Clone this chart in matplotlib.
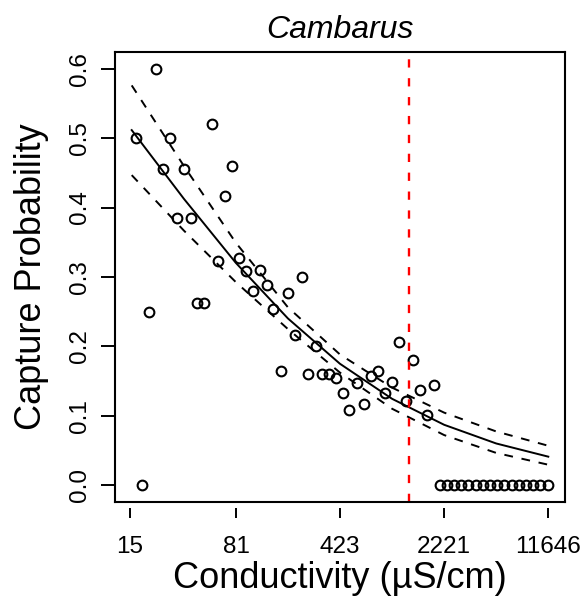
import numpy as np
import matplotlib.pyplot as plt
from matplotlib.ticker import FixedLocator, FixedFormatter, NullLocator

plt.rcParams['font.family'] = ['Liberation Sans', 'DejaVu Sans']

# observed capture probabilities (conductivity in uS/cm)
cond = [22.6, 16.4, 55, 28.3, 76.4, 25.2, 35.2, 68.3, 31.5, 39.4,
        61.1, 85.3, 95, 118.8, 132.1, 230.6, 184.6, 105.7, 146.8, 207.3,
        288, 20.3, 43.8, 48.9, 165.2, 256, 320, 358, 398, 447,
        492, 559, 623, 696, 781, 869, 972, 1081, 1215, 1350,
        1502, 1689, 1888, 18.1]
prob = [0.600, 0.500, 0.520, 0.500, 0.460, 0.455, 0.455, 0.417, 0.385, 0.385,
        0.323, 0.327, 0.308, 0.310, 0.288, 0.300, 0.277, 0.280, 0.254, 0.217,
        0.200, 0.250, 0.263, 0.263, 0.165, 0.161, 0.161, 0.161, 0.155, 0.133,
        0.108, 0.148, 0.117, 0.157, 0.165, 0.133, 0.149, 0.207, 0.121, 0.181,
        0.137, 0.102, 0.145, 0.0]

# sites with no captures
zero_cond = [2064, 2315, 2596, 2912, 3266, 3663, 4108, 4607, 5168, 5796,
             6500, 7291, 8178, 9172, 10287, 11538]

# fitted curve and confidence band
curve_cond = [15.4, 35.3, 80.7, 185, 423, 970, 2221, 5085, 11646]
fit_mid = [0.5115, 0.4127, 0.3204, 0.2403, 0.1751, 0.1246, 0.0872, 0.0603, 0.0413]
fit_upper = [0.5759, 0.4600, 0.3494, 0.2563, 0.1885, 0.1407, 0.1047, 0.0776, 0.0570]
fit_lower = [0.4467, 0.3669, 0.2927, 0.2250, 0.1624, 0.1103, 0.0724, 0.0467, 0.0297]

threshold = 1275

xtick_vals = [15, 81, 423, 2221, 11646]
ytick_vals = [0.0, 0.1, 0.2, 0.3, 0.4, 0.5, 0.6]


def main():
    fig = plt.figure(figsize=(5.86, 6.01), dpi=100)
    ax = fig.add_axes([0.1962, 0.1647, 0.768, 0.7488])

    ax.plot(cond, prob, 'o', mfc='none', mec='black', ms=7, mew=1.5)
    ax.plot(zero_cond, np.zeros(len(zero_cond)), 'o', mfc='none',
            mec='black', ms=7, mew=1.5)

    ax.plot(curve_cond, fit_mid, '-', color='black', lw=1.4)
    ax.plot(curve_cond, fit_upper, '--', color='black', lw=1.4, dashes=(4.5, 4.5))
    ax.plot(curve_cond, fit_lower, '--', color='black', lw=1.4, dashes=(4.5, 4.5))

    ax.axvline(threshold, color='red', lw=1.7, dashes=(3.5, 4.5))

    ax.set_xscale('log')
    ax.set_xlim(11.8, 15200)
    ax.set_ylim(-0.024, 0.624)

    ax.xaxis.set_major_locator(FixedLocator(xtick_vals))
    ax.xaxis.set_major_formatter(FixedFormatter([str(v) for v in xtick_vals]))
    ax.xaxis.set_minor_locator(NullLocator())
    ax.set_yticks(ytick_vals)
    ax.set_yticklabels(['%.1f' % v for v in ytick_vals], rotation=90, va='center')

    # R-style box; ticks of the x axis sit a bit below the box
    ax.spines['bottom'].set_position(('outward', 4))
    ax.spines['bottom'].set_visible(False)
    ax.plot([0, 1], [0, 0], transform=ax.transAxes, color='black', lw=1.5,
            clip_on=False)
    for s in ['top', 'left', 'right']:
        ax.spines[s].set_linewidth(1.5)

    ax.tick_params(axis='x', length=7.5, width=1.4, labelsize=17.5, pad=13)
    ax.tick_params(axis='y', length=10, width=1.4, labelsize=17.5, pad=7)

    ax.set_xlabel('Conductivity (\u00b5S/cm)', fontsize=26, labelpad=2)
    ax.set_ylabel('Capture Probability', fontsize=26, labelpad=15)
    ax.set_title('Cambarus', fontsize=23, style='italic', pad=10)

    fig.savefig('out.png', dpi=100)


if __name__ == "__main__":
    main()
